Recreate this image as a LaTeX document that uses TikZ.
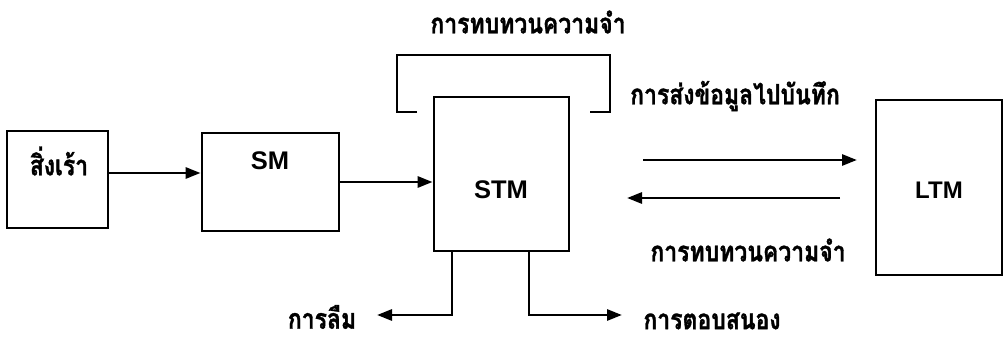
\documentclass[tikz,border=0pt]{standalone}
\usepackage{fontspec}
\setmainfont{Liberation Sans}
\newfontfamily\thaifont[Script=Thai, FakeStretch=0.82, FakeBold=1.2]{Loma}
\usetikzlibrary{arrows.meta,calc}

\begin{document}
\begin{tikzpicture}[x=1pt,y=-1pt,
  blk/.style={draw, line width=2.8pt, inner sep=0pt},
  wire/.style={line width=2.8pt, line join=miter},
  conn/.style={line width=2.8pt, -{Triangle[length=15pt,width=11pt]}},
  eng/.style={inner sep=0pt, font=\bfseries\fontsize{25.5}{25.5}\selectfont},
  th/.style={inner sep=0pt, font=\thaifont\bfseries\fontsize{28}{28}\selectfont}]
\useasboundingbox (0,0) rectangle (1007,342);

% boxes
\node[blk, minimum width=101pt, minimum height=97pt]  (stim) at (57.5,179.5) {};
\node[blk, minimum width=137pt, minimum height=98pt]  (sm)   at (270.5,182) {};
\node[blk, minimum width=135pt, minimum height=154pt] (stm)  at (501.5,174) {};
\node[blk, minimum width=126pt, minimum height=175pt] (ltm)  at (939,187.5) {};

% box captions
\node[th]  (tstim) at (59,161)  {สิ่งเร้า};
\node[eng] (tsm)   at (270,161) {SM};
\node[eng] (tstm)  at (501,190) {STM};
\node[eng, font=\bfseries\fontsize{24}{24}\selectfont] (tltm) at (939,190) {LTM};

% input flow
\draw[conn] (stim.east |- 0,173) -- (sm.west |- 0,173);
\draw[conn] (sm.east) -- (sm.east -| stm.west);

% rehearsal loop above STM
\coordinate (loopL)  at (417,112);
\coordinate (loopTL) at (397,55);
\coordinate (loopTR) at (610,55);
\coordinate (loopR)  at (590,112);
\draw[wire] (loopL) -| (loopTL) -- (loopTR) |- (loopR);
\node[th] (lrehearse) at (528,22) {การทบทวนความจำ};

% transfer to and retrieval from LTM
\coordinate (sendA) at (643,160);
\coordinate (sendB) at (857,160);
\coordinate (backA) at (840,198);
\coordinate (backB) at (627,198);
\draw[conn] (sendA) -- (sendB);
\draw[conn] (backA) -- (backB);
\node[th] (lsend)     at (735,96)  {การส่งข้อมูลไปบันทึก};
\node[th] (lretrieve) at (748,250) {การทบทวนความจำ};

% outputs of STM
\coordinate (forget)  at (377,315);
\coordinate (respond) at (622,315);
\draw[conn] ([xshift=-49.5pt]stm.south) |- (forget);
\draw[conn] ([xshift=27.5pt]stm.south) |- (respond);
\node[th] (lforget)  at (322,317) {การลืม};
\node[th] (lrespond) at (712,321) {การตอบสนอง};
\end{tikzpicture}
\end{document}
